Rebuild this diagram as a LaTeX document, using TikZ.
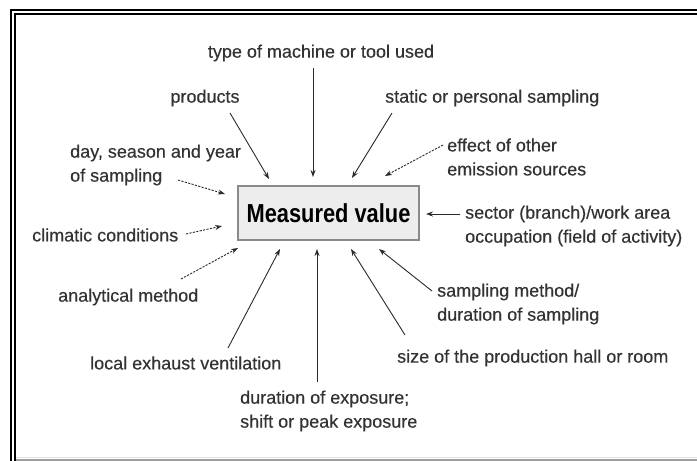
\documentclass[tikz,border=0pt]{standalone}
\usepackage{fontspec}
\usepackage{graphicx}
\setmainfont{Liberation Sans}
\newfontfamily\lblfont[FakeBold=0.35]{Liberation Sans}
\usetikzlibrary{arrows.meta}
\definecolor{txt}{HTML}{333333}
\definecolor{ln}{HTML}{2A2A2A}
\definecolor{boxfill}{HTML}{EDEDED}
\definecolor{boxdraw}{HTML}{8A8A8A}
\tikzset{
  lbl/.style={font=\lblfont\fontsize{18}{24}\selectfont, text=txt, inner sep=0pt},
  lbll/.style={lbl, anchor=west, align=left},
  arr/.style={draw=ln, line width=0.9pt, -{Stealth[length=7pt,width=5pt]}},
  darr/.style={arr, dash pattern=on 2.2pt off 1.3pt},
  mainbox/.style={draw=boxdraw, fill=boxfill, line width=1.2pt, minimum width=181pt, minimum height=54pt, inner sep=0pt}
}
\begin{document}
\begin{tikzpicture}[x=1pt,y=-1pt]
\useasboundingbox (0,0) rectangle (697,461);
\fill[white] (0,0) rectangle (697,461);
% frame
\draw[line width=2.4pt] (11,461) -- (11,10) -- (697,10);
\draw[line width=1.5pt] (15,461) -- (15,14) -- (697,14);
\draw[line width=2.5pt, draw=gray!75] (16,459.8) -- (697,459.8);
\draw[line width=0.8pt, draw=gray!25] (16,457.3) -- (697,457.3);
% central box
\node[mainbox] (mv) at (328.5,213) {\scalebox{0.84}[1]{\fontsize{26}{30}\selectfont\bfseries Measured value}};
% labels
\node[lbl] (type) at (321,53) {type of machine or tool used};
\node[lbl] (prod) at (205,98) {products};
\node[lbll] (stat) at (385,98) {static or personal sampling};
\node[lbll] (day) at (70,165) {day, season and year\\of sampling};
\node[lbll] (eff) at (447,157) {effect of other\\emission sources};
\node[lbll] (clim) at (32,235) {climatic conditions};
\node[lbll] (sect) at (465,226) {sector (branch)/work area\\occupation (field of activity)};
\node[lbll] (anal) at (58,297) {analytical method};
\node[lbll] (samp) at (437,304) {sampling method/\\duration of sampling};
\node[lbll] (loc) at (90,363) {local exhaust ventilation};
\node[lbll] (size) at (397,358) {size of the production hall or room};
\node[lbll] (dur) at (240,411) {duration of exposure;\\shift or peak exposure};
% arrow end coordinates
\coordinate (a1) at (313,68);   \coordinate (b1) at (313,177);
\coordinate (a2) at (230,113);  \coordinate (b2) at (269,179);
\coordinate (a3) at (392,113);  \coordinate (b3) at (352,178);
\coordinate (a4) at (443,145);  \coordinate (b4) at (385,176);
\coordinate (a5) at (178,180);  \coordinate (b5) at (225,194);
\coordinate (a6) at (186,234);  \coordinate (b6) at (222,226);
\coordinate (a7) at (460,214);  \coordinate (b7) at (426,214);
\coordinate (a8) at (181,279);  \coordinate (b8) at (238,248);
\coordinate (a9) at (228,348);  \coordinate (b9) at (280,249);
\coordinate (a10) at (317,382); \coordinate (b10) at (317,249);
\coordinate (a11) at (405,335); \coordinate (b11) at (351,249);
\coordinate (a12) at (432,291); \coordinate (b12) at (379,249);
% arrows
\draw[arr] (a1) -- (b1);
\draw[arr] (a2) -- (b2);
\draw[arr] (a3) -- (b3);
\draw[darr] (a4) -- (b4);
\draw[darr] (a5) -- (b5);
\draw[darr] (a6) -- (b6);
\draw[arr] (a7) -- (b7);
\draw[darr] (a8) -- (b8);
\draw[arr] (a9) -- (b9);
\draw[arr] (a10) -- (b10);
\draw[arr] (a11) -- (b11);
\draw[arr] (a12) -- (b12);
\end{tikzpicture}
\end{document}
